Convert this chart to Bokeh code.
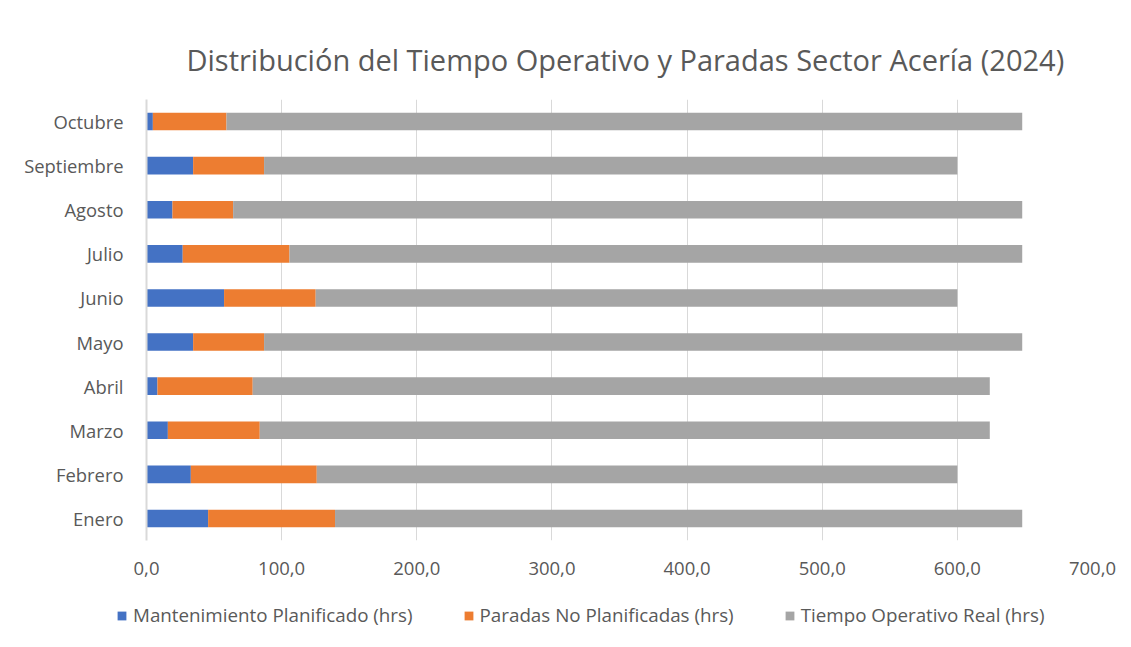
from bokeh.plotting import figure
from bokeh.models import FactorRange, Range1d, CustomJSTickFormatter, Legend, LegendItem, FixedTicker
from bokeh.embed import file_html
from bokeh.resources import INLINE

months = ["Enero", "Febrero", "Marzo", "Abril", "Mayo", "Junio", "Julio", "Agosto", "Septiembre", "Octubre"]
mant_plan = [45.6, 32.8, 15.8, 8.1, 34.5, 57.4, 26.8, 19.2, 34.5, 4.7]
paradas_np = [93.9, 93.2, 68.0, 70.5, 52.5, 67.8, 79.0, 44.9, 52.5, 54.5]
tiempo_op = [508.5, 474.0, 540.2, 545.4, 561.0, 474.8, 542.2, 583.9, 513.0, 588.8]
series = ["Mantenimiento Planificado (hrs)", "Paradas No Planificadas (hrs)", "Tiempo Operativo Real (hrs)"]
colors = ["#4472C4", "#ED7D31", "#A5A5A5"]
x_ticks = [0, 100, 200, 300, 400, 500, 600, 700]

FONT = "Open Sans"
TXT = "#595959"

data = {"month": months, "a": mant_plan, "b": paradas_np, "c": tiempo_op}

p = figure(width=1131, height=590, y_range=FactorRange(factors=months), x_range=Range1d(0, 700),
           output_backend="svg", toolbar_location=None,
           min_border_left=146, min_border_right=39, min_border_top=99, min_border_bottom=50)

rs = p.hbar_stack(["a", "b", "c"], y="month", height=0.4, color=colors, source=data, line_color=None)

p.title.text = "Distribución del Tiempo Operativo y Paradas Sector Acería (2024)"
p.title.text_font = FONT
p.title.text_font_style = "normal"
p.title.text_font_size = "29px"
p.title.text_color = TXT
p.title.align = "left"
p.title.offset = 40
p.title.standoff = 41

p.outline_line_color = None
p.ygrid.grid_line_color = None
p.xgrid.grid_line_color = "#D9D9D9"
p.xgrid.grid_line_width = 1
p.xaxis.ticker = FixedTicker(ticks=x_ticks)
p.xaxis.formatter = CustomJSTickFormatter(code="return tick.toFixed(1).replace('.', ',');")
p.xaxis.axis_line_color = None
p.xaxis.major_tick_line_color = None
p.xaxis.minor_tick_line_color = None
p.xaxis.major_label_standoff = 15
p.xaxis.major_label_text_font = FONT
p.xaxis.major_label_text_font_size = "18.5px"
p.xaxis.major_label_text_color = TXT

p.yaxis.axis_line_color = "#D9D9D9"
p.yaxis.axis_line_width = 2
p.yaxis.major_tick_line_color = None
p.yaxis.minor_tick_line_color = None
p.yaxis.major_label_standoff = 17
p.yaxis.major_label_text_font = FONT
p.yaxis.major_label_text_font_size = "18.4px"
p.yaxis.major_label_text_color = TXT
p.y_range.range_padding = 0

# legend strip below the chart (separate root, no frame alignment)
q = figure(width=1131, height=57, x_range=Range1d(0, 1), y_range=Range1d(0, 1),
           output_backend="svg", toolbar_location=None,
           x_axis_location=None, y_axis_location=None,
           min_border_left=0, min_border_right=0, min_border_top=0, min_border_bottom=0)
q.grid.visible = False
q.outline_line_color = None
dummies = [q.quad(left=[5], right=[6], bottom=[5], top=[6], color=c, line_color=None) for c in colors]
items = [LegendItem(label=s, renderers=[r]) for s, r in zip(series, dummies)]
legend = Legend(items=items, orientation="horizontal", location=(116, 19),
                label_text_font=FONT, label_text_font_size="18.8px", label_text_color=TXT,
                glyph_width=11, glyph_height=11, spacing=50, label_standoff=6,
                border_line_color=None, background_fill_alpha=0, padding=0, margin=0)
q.add_layout(legend, "center")

open("out.html", "w").write(file_html([p, q], INLINE))
